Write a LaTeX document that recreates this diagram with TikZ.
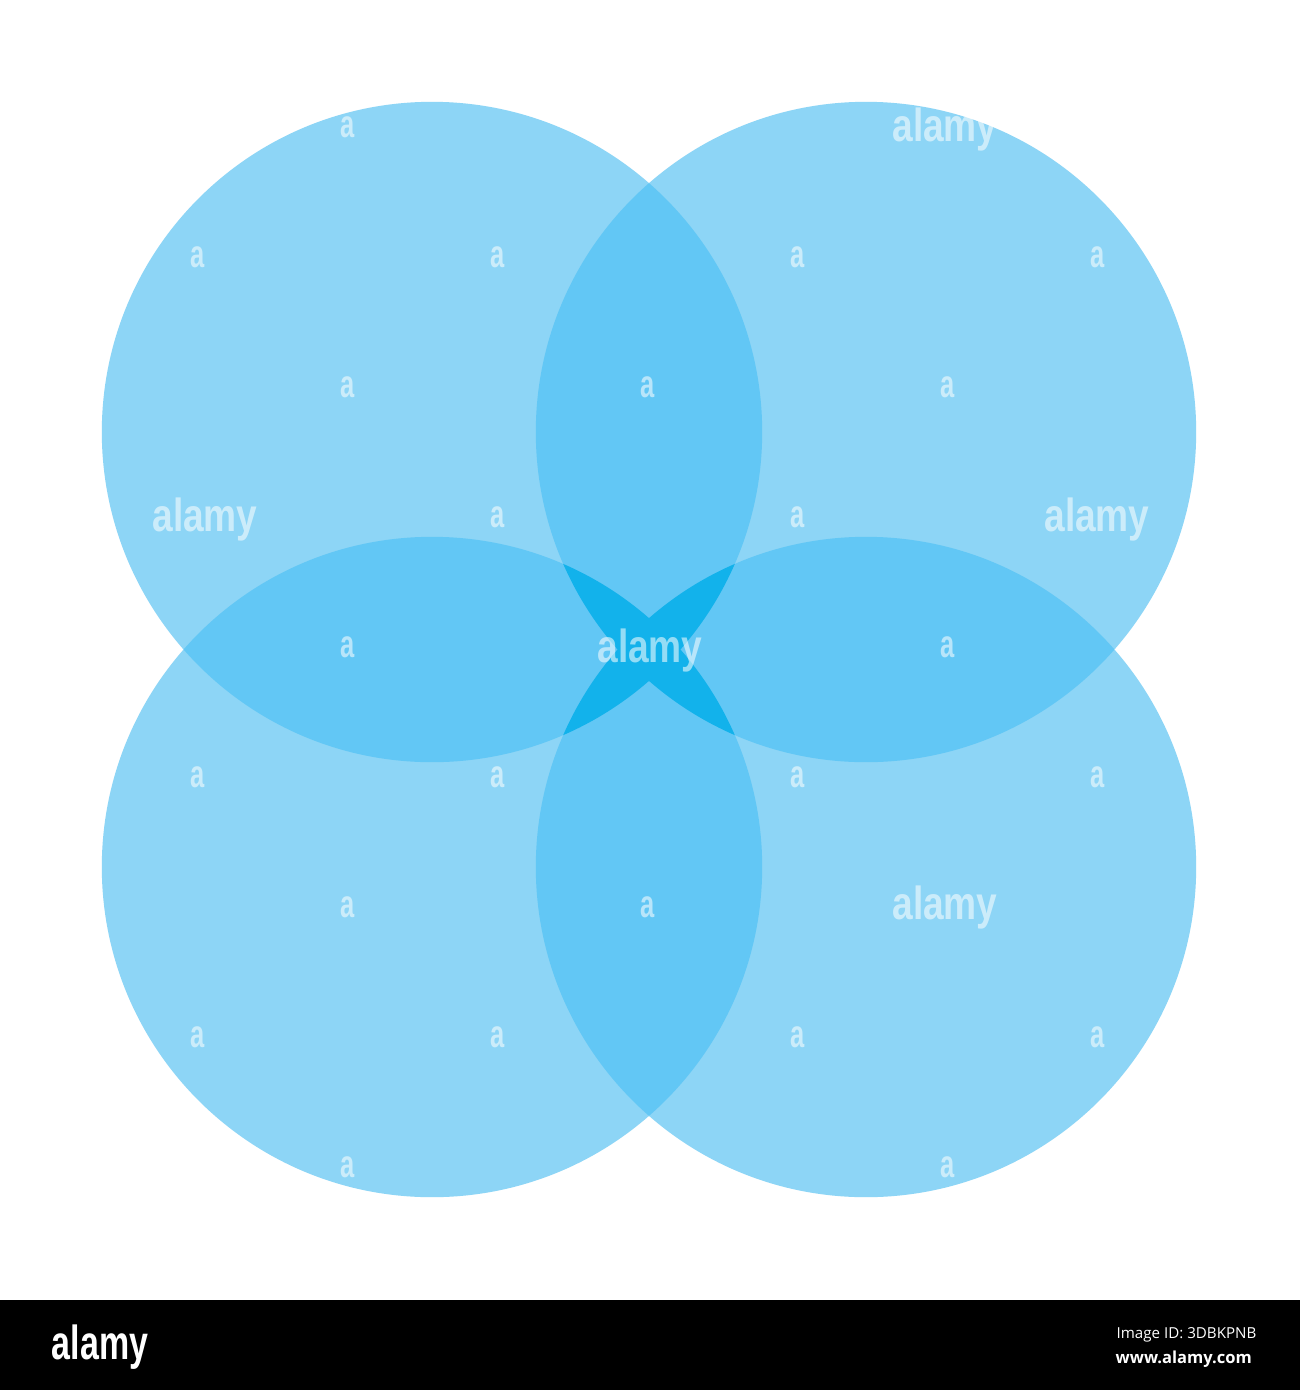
\documentclass[tikz,border=0pt]{standalone}
\usepackage{fontspec}
\setmainfont{Liberation Sans}
\newfontfamily\idfont{Open Sans}
\usetikzlibrary{positioning}

\definecolor{petalblue}{RGB}{141,213,246}
\definecolor{lensblue}{RGB}{98,199,245}
\definecolor{coreblue}{RGB}{18,178,235}

\tikzset{
	petal/.style={fill=petalblue},
	lens/.style={fill=lensblue},
	core/.style={fill=coreblue},
	wmletter/.style={text=white, text opacity=0.55, inner sep=0pt, xscale=0.66,
		font=\bfseries\fontsize{11}{11}\selectfont},
	wmword/.style={text=white, text opacity=0.55, inner sep=0pt, xscale=0.8,
		font=\bfseries\fontsize{13.2}{13.2}\selectfont},
	barlogo/.style={text=white, inner sep=0pt, xscale=0.71,
		font=\bfseries\fontsize{13.6}{13.6}\selectfont},
	bartext/.style={text=white, inner sep=0pt, anchor=base west},
}

\begin{document}
\begin{tikzpicture}[x=0.01cm, y=-0.01cm]
	\useasboundingbox (0,0) rectangle (1300,1390);
	\fill[white] (0,0) rectangle (1300,1300);
	% circle centres
	\coordinate (tl) at (432,432);
	\coordinate (tr) at (866,432);
	\coordinate (bl) at (432,867);
	\coordinate (br) at (866,867);
	\foreach \c in {tl,tr,bl,br}
		\fill[petal] (\c) circle (3.3cm);
	% side overlaps
	\foreach \a/\b in {tl/tr,tl/bl,tr/br,bl/br}{
		\begin{scope}
			\clip (\a) circle (3.3cm);
			\fill[lens] (\b) circle (3.3cm);
		\end{scope}
	}
	% diagonal overlaps
	\foreach \a/\b in {tl/br,tr/bl}{
		\begin{scope}
			\clip (\a) circle (3.3cm);
			\fill[core] (\b) circle (3.3cm);
		\end{scope}
	}
	% watermark
	\foreach \x/\y in {348/127,198/257,498/257,798/257,1098/257,
		348/387,648/387,948/387,498/517,798/517,348/647,948/647,
		198/777,498/777,798/777,1098/777,348/907,648/907,
		198/1037,498/1037,798/1037,1098/1037,348/1167,948/1167}
		\node[wmletter] at (\x,\y) {a};
	\foreach \x/\y [count=\i] in {945/129,205/519,1097/519,650/650,945/907}
		\node[wmword] (wm\i) at (\x,\y) {alamy};
	% bottom bar
	\fill[black] (0,1300) rectangle (1300,1390);
	\node[barlogo] (logo) at (100,1347) {alamy};
	\node[bartext, font=\idfont\fontsize{4.3}{4.3}\selectfont] (imgid) at (1116,1338) {Image ID: 3DBKPNB};
	\node[bartext, font=\idfont\bfseries\fontsize{4.7}{4.7}\selectfont] (site) at (1115,1363) {www.alamy.com};
\end{tikzpicture}
\end{document}
